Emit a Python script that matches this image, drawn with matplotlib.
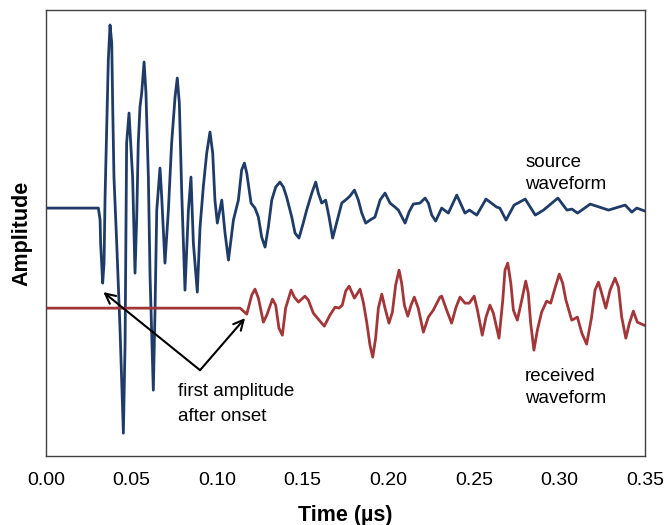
import matplotlib
matplotlib.use("Agg")
import matplotlib.pyplot as plt

plt.rcParams["font.family"] = ["Liberation Sans", "DejaVu Sans"]

# source waveform (time in us, amplitude in arbitrary units)
src_t = [0.000, 0.0306, 0.0316, 0.0319, 0.0331, 0.0339, 0.0345, 0.0355, 0.0364,
         0.0374, 0.0384, 0.0390, 0.0397, 0.0413, 0.0432, 0.0452, 0.0462, 0.0471,
         0.0485, 0.0495, 0.0506, 0.0520, 0.0530, 0.0539, 0.0549, 0.0559, 0.0573,
         0.0584, 0.0598, 0.0608, 0.0627, 0.0637, 0.0647, 0.0666, 0.0676, 0.0695,
         0.0715, 0.0734, 0.0754, 0.0767, 0.0779, 0.0793, 0.0812, 0.0832, 0.0847,
         0.0861, 0.0884, 0.0900, 0.0919, 0.0939, 0.0958, 0.0974, 0.0987, 0.1001,
         0.1027, 0.1046, 0.1066, 0.1095, 0.1124, 0.1143, 0.1159, 0.1173, 0.1198,
         0.1221, 0.1241, 0.1260, 0.1280, 0.1299, 0.1319, 0.1342, 0.1367, 0.1387,
         0.1406, 0.1436, 0.1455, 0.1478, 0.1503, 0.1523, 0.1553, 0.1576, 0.1591,
         0.1611, 0.1634, 0.1654, 0.1675, 0.1698, 0.1728, 0.1757, 0.1776, 0.1802,
         0.1825, 0.1845, 0.1868, 0.1893, 0.1922, 0.1952, 0.1981, 0.2010, 0.2039,
         0.2059, 0.2098, 0.2121, 0.2146, 0.2185, 0.2215, 0.2234, 0.2254, 0.2277,
         0.2312, 0.2351, 0.2400, 0.2448, 0.2474, 0.2517, 0.2571, 0.2633, 0.2652,
         0.2688, 0.2735, 0.2800, 0.2859, 0.2907, 0.2991, 0.3044, 0.3073, 0.3106,
         0.3180, 0.3287, 0.3384, 0.3423, 0.3452, 0.3500]
src_a = [0, 0, -12, -35, -75, -55, 11, 81, 148,
         183, 165, 98, 31, -35, -119, -225, -135, 65,
         95, 65, 31, -65, -9, 65, 101, 115, 146,
         115, 31, -69, -182, -102, -2, 40, 11, -55,
         -2, 65, 111, 130, 105, 15, -82, -2, 31,
         -35, -84, -19, 21, 55, 76, 55, 8, -15,
         8, -25, -52, -12, 8, 38, 45, 35, 5,
         0, -9, -29, -39, -19, 8, 21, 26, 21,
         11, -9, -25, -30, -15, -2, 15, 26, 15,
         5, 8, -9, -30, -15, 5, 9, 12, 18,
         8, -5, -15, -12, -9, 8, 15, 5, 1,
         -2, -15, -4, 4, 5, 10, 5, -7, -13,
         0, -5, 13, -5, -2, -7, 9, 1, 0,
         -12, 3, 9, -7, -2, 10, -2, -1, -5,
         4, -2, 3, -4, 0, -3]

# received waveform
rec_t = [0.000, 0.1134, 0.1173, 0.1202, 0.1221, 0.1241, 0.1270, 0.1290, 0.1323,
         0.1342, 0.1361, 0.1381, 0.1400, 0.1432, 0.1451, 0.1475, 0.1513, 0.1533,
         0.1562, 0.1591, 0.1626, 0.1659, 0.1689, 0.1712, 0.1731, 0.1751, 0.1771,
         0.1802, 0.1835, 0.1854, 0.1874, 0.1893, 0.1909, 0.1926, 0.1942, 0.1962,
         0.1981, 0.2004, 0.2024, 0.2043, 0.2063, 0.2078, 0.2094, 0.2114, 0.2133,
         0.2152, 0.2175, 0.2205, 0.2234, 0.2263, 0.2302, 0.2312, 0.2341, 0.2370,
         0.2396, 0.2419, 0.2448, 0.2473, 0.2502, 0.2521, 0.2549, 0.2571, 0.2594,
         0.2614, 0.2647, 0.2669, 0.2682, 0.2698, 0.2716, 0.2731, 0.2754, 0.2780,
         0.2803, 0.2818, 0.2832, 0.2851, 0.2871, 0.2896, 0.2925, 0.2949, 0.2974,
         0.2999, 0.3019, 0.3038, 0.3072, 0.3105, 0.3131, 0.3159, 0.3188, 0.3208,
         0.3228, 0.3247, 0.3271, 0.3296, 0.3325, 0.3345, 0.3364, 0.3388, 0.3409,
         0.3432, 0.3455, 0.3494]
rec_a = [0, 0, -6, 13, 19, 10, -14, -7, 9,
         3, -20, -27, 0, 18, 11, 6, 12, 8,
         -5, -11, -18, -7, 1, 0, 3, 17, 22,
         10, 19, 6, -14, -37, -49, -30, 0, 14,
         0, -15, -4, 23, 38, 25, 3, -8, 3,
         11, 0, -24, -9, -2, 11, 12, -2, -15,
         1, 11, 5, 5, 12, -2, -27, -9, 3,
         -5, -30, 8, 38, 45, 25, -2, -12, 8,
         27, 15, -15, -42, -22, -4, 7, 5, 20,
         34, 25, 8, -12, -9, -25, -36, -9, 18,
         26, 15, 0, 18, 30, 21, -9, -30, -15,
         -3, -14, -17]

src_offset = 100
xticks = [0.00, 0.05, 0.10, 0.15, 0.20, 0.25, 0.30, 0.35]

fig = plt.figure(figsize=(6.67, 5.25), dpi=100)
ax = fig.add_axes([0.069, 0.131, 0.898, 0.850])

ax.plot(src_t, [a + src_offset for a in src_a], color="#1f3c68", lw=2.0,
        solid_joinstyle="round")
ax.plot(rec_t, rec_a, color="#a33638", lw=2.0, solid_joinstyle="round")

ax.set_xlim(0, 0.35)
ax.set_ylim(-148, 298)
ax.set_xticks(xticks)
ax.set_xticklabels([f"{v:.2f}" for v in xticks])
ax.set_yticks([])
ax.tick_params(axis="x", length=0, labelsize=14, pad=11)
for s in ax.spines.values():
    s.set_color("#404040")
    s.set_linewidth(1.0)

ax.set_xlabel("Time (µs)", fontsize=15.5, fontweight="bold", labelpad=12)
ax.set_ylabel("Amplitude", fontsize=15.5, fontweight="bold", labelpad=10)

arrow = dict(arrowstyle="->", color="black", lw=1.5, mutation_scale=18,
             shrinkA=0, shrinkB=0)
ax.annotate("", xy=(0.0335, 16), xytext=(0.0900, -62), arrowprops=arrow)
ax.annotate("", xy=(0.1163, -10), xytext=(0.0900, -62), arrowprops=arrow)

ax.text(0.0771, -75, "first amplitude\nafter onset", fontsize=13.5,
        va="top", ha="left", linespacing=1.6)
ax.text(0.280, 154, "source\nwaveform", fontsize=13.5,
        va="top", ha="left", linespacing=1.4)
ax.text(0.280, -60, "received\nwaveform", fontsize=13.5,
        va="top", ha="left", linespacing=1.4)

fig.savefig("out.png", dpi=100)
